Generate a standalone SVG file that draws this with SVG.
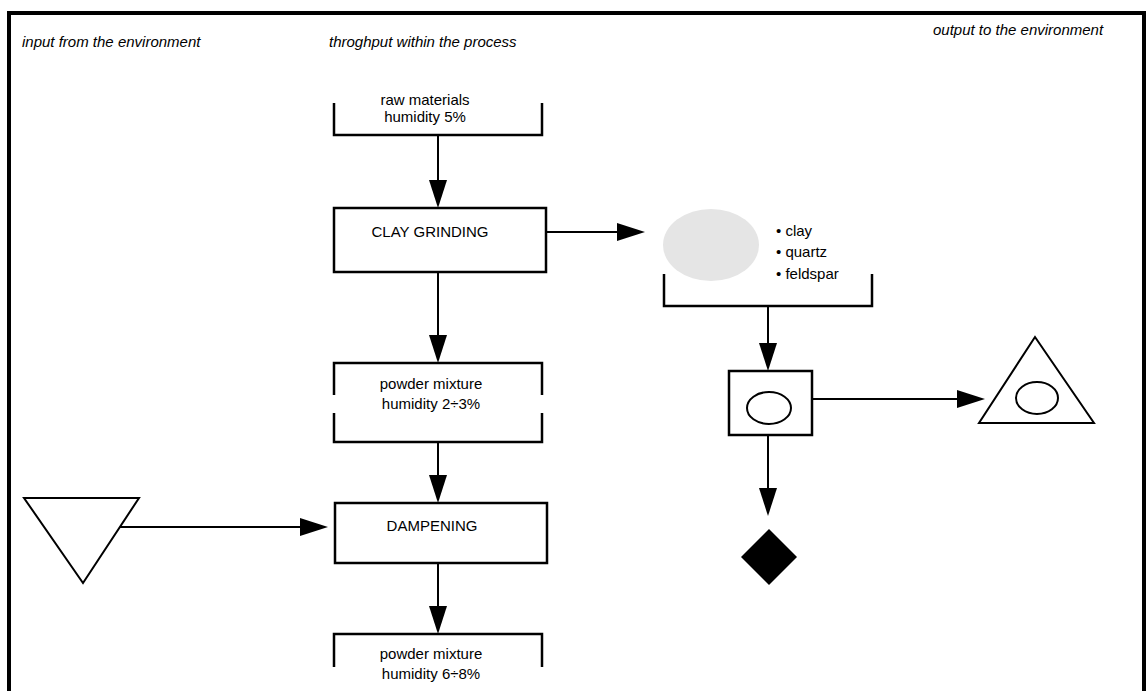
<svg xmlns="http://www.w3.org/2000/svg" width="1146" height="691" viewBox="0 0 1146 691">
  <style>
    .lbl { font-family: "Liberation Sans", Arial, sans-serif; font-size: 15px; fill: #000; }
    .hdr { font-family: "Liberation Sans", Arial, sans-serif; font-size: 15px; font-style: italic; fill: #000; }
    .mid { text-anchor: middle; }
    .box { fill: #fff; stroke: #000; stroke-width: 2.5; }
    .brk { fill: none; stroke: #000; stroke-width: 2.5; }
    .shape { fill: #fff; stroke: #000; stroke-width: 2; }
    .conn { fill: none; stroke: #000; stroke-width: 2; marker-end: url(#head); }
  </style>
  <defs>
    <marker id="head" markerUnits="userSpaceOnUse" markerWidth="28" markerHeight="18" refX="0" refY="9" orient="auto" overflow="visible">
      <path d="M0,0 L28,9 L0,18 Z" fill="#000"/>
    </marker>
  </defs>

  <rect width="1146" height="691" fill="#fff"/>
  <!-- outer frame -->
  <rect x="9" y="13" width="1135" height="700" fill="none" stroke="#000" stroke-width="4"/>

  <!-- column headings -->
  <text class="hdr" x="22" y="47">input from the environment</text>
  <text class="hdr" x="329" y="47">throghput within the process</text>
  <text class="hdr" x="933" y="35">output to the environment</text>

  <g id="connectors">
    <line class="conn" x1="438" y1="135" x2="438" y2="180"/>
    <line class="conn" x1="438" y1="272" x2="438" y2="335"/>
    <line class="conn" x1="546" y1="232" x2="617" y2="232"/>
    <line class="conn" x1="438" y1="442" x2="438" y2="475"/>
    <line class="conn" x1="120" y1="527" x2="300" y2="527"/>
    <line class="conn" x1="438" y1="563" x2="438" y2="606"/>
    <line class="conn" x1="768" y1="306" x2="768" y2="343"/>
    <line class="conn" x1="812" y1="399" x2="957" y2="399"/>
    <line class="conn" x1="768" y1="435" x2="768" y2="488"/>
  </g>

  <g id="raw-materials">
    <path class="brk" d="M334,103 V135 H542 V103"/>
    <text class="lbl mid" x="425" y="105">raw materials</text>
    <text class="lbl mid" x="425" y="122">humidity 5%</text>
  </g>

  <g id="clay-grinding">
    <rect class="box" x="334" y="208" width="212" height="64"/>
    <text class="lbl mid" x="430" y="237">CLAY GRINDING</text>
  </g>

  <g id="powder-mixture-dry">
    <path class="brk" d="M334,395 V363 H542 V395 M334,413 V442 H542 V413"/>
    <text class="lbl mid" x="431" y="389">powder mixture</text>
    <text class="lbl mid" x="431" y="409">humidity 2÷3%</text>
  </g>

  <g id="dampening">
    <rect class="box" x="335" y="503" width="212" height="60"/>
    <text class="lbl mid" x="432" y="531">DAMPENING</text>
  </g>

  <g id="water-input">
    <polygon class="shape" points="24,498 139,498 83,583"/>
  </g>

  <g id="powder-mixture-wet">
    <path class="brk" d="M334,667 V634 H542 V667"/>
    <text class="lbl mid" x="431" y="659">powder mixture</text>
    <text class="lbl mid" x="431" y="679">humidity 6÷8%</text>
  </g>

  <g id="dust">
    <ellipse cx="711" cy="245" rx="48" ry="36" fill="#e5e5e5"/>
    <text class="lbl" x="776" y="236">• clay</text>
    <text class="lbl" x="776" y="257">• quartz</text>
    <text class="lbl" x="776" y="279">• feldspar</text>
    <path class="brk" d="M664,274 V306 H872 V274"/>
  </g>

  <g id="filter">
    <rect class="box" x="729" y="371" width="83" height="64"/>
    <ellipse cx="769" cy="408" rx="22" ry="16" fill="none" stroke="#000" stroke-width="2"/>
  </g>

  <g id="emission">
    <polygon class="shape" points="1035,337 1094,423 979,423"/>
    <ellipse cx="1037" cy="398" rx="21" ry="16" fill="none" stroke="#000" stroke-width="2"/>
  </g>

  <g id="residue">
    <polygon points="769,529 797,557 769,585 741,557" fill="#000"/>
  </g>
</svg>
